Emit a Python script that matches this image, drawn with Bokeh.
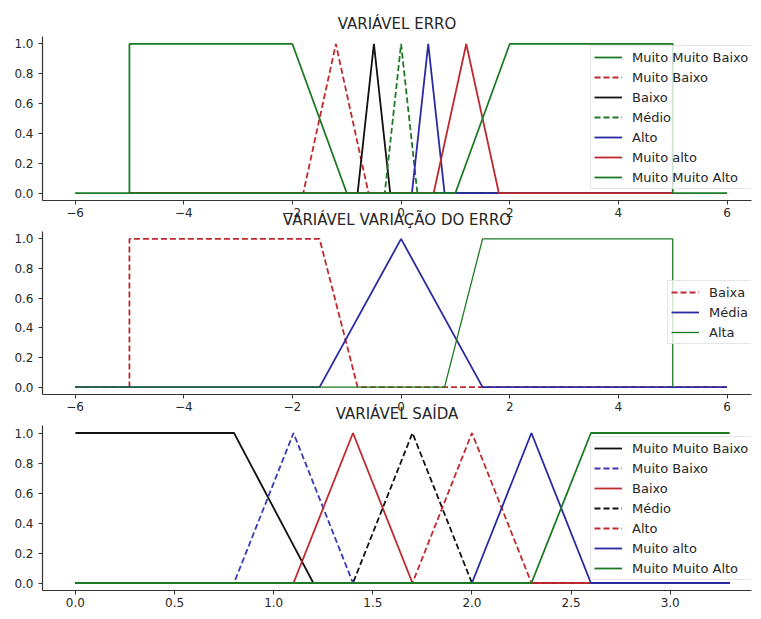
from bokeh.plotting import figure
from bokeh.models import Range1d, Legend, LegendItem, FixedTicker, NumeralTickFormatter
from bokeh.layouts import column
from bokeh.embed import file_html
from bokeh.resources import INLINE

# ---------------- data ----------------
# Panel 1: VARIÁVEL ERRO
erro_title = "VARIÁVEL ERRO"
erro_labels = ["Muito Muito Baixo", "Muito Baixo", "Baixo", "Médio", "Alto", "Muito alto", "Muito Muito Alto"]
erro_mmb_x = [-6, -5, -5, -2, -1, 6]
erro_mmb_y = [0, 0, 1, 1, 0, 0]
erro_mb_x = [-5, -1.8, -1.2, -0.6, 5]
erro_mb_y = [0, 0, 1, 0, 0]
erro_b_x = [-5, -0.8, -0.5, -0.2, 5]
erro_b_y = [0, 0, 1, 0, 0]
erro_m_x = [-5, -0.3, 0.0, 0.3, 5]
erro_m_y = [0, 0, 1, 0, 0]
erro_a_x = [-5, 0.2, 0.5, 0.8, 5]
erro_a_y = [0, 0, 1, 0, 0]
erro_ma_x = [-5, 0.6, 1.2, 1.8, 5]
erro_ma_y = [0, 0, 1, 0, 0]
erro_mma_x = [-5, 1, 2, 5, 5]
erro_mma_y = [0, 0, 1, 1, 0]

# Panel 2: VARIÁVEL VARIAÇÃO DO ERRO
var_title = "VARIÁVEL VARIAÇÃO DO ERRO"
var_labels = ["Baixa", "Média", "Alta"]
var_baixa_x = [-6, -5, -5, -1.5, -0.8, 6]
var_baixa_y = [0, 0, 1, 1, 0, 0]
var_media_x = [-6, -1.5, 0.0, 1.5, 6]
var_media_y = [0, 0, 1, 0, 0]
var_alta_x = [-6, 0.8, 1.5, 5, 5]
var_alta_y = [0, 0, 1, 1, 0]

# Panel 3: VARIÁVEL SAÍDA
saida_title = "VARIÁVEL SAÍDA"
saida_labels = ["Muito Muito Baixo", "Muito Baixo", "Baixo", "Médio", "Alto", "Muito alto", "Muito Muito Alto"]
saida_mmb_x = [0, 0.8, 1.2, 3.3]
saida_mmb_y = [1, 1, 0, 0]
saida_mb_x = [0, 0.8, 1.1, 1.4, 3.3]
saida_mb_y = [0, 0, 1, 0, 0]
saida_b_x = [0, 1.1, 1.4, 1.7, 3.3]
saida_b_y = [0, 0, 1, 0, 0]
saida_m_x = [0, 1.4, 1.7, 2.0, 3.3]
saida_m_y = [0, 0, 1, 0, 0]
saida_a_x = [0, 1.7, 2.0, 2.3, 3.3]
saida_a_y = [0, 0, 1, 0, 0]
saida_ma_x = [0, 2.0, 2.3, 2.6, 3.3]
saida_ma_y = [0, 0, 1, 0, 0]
saida_mma_x = [0, 2.3, 2.6, 3.3]
saida_mma_y = [0, 0, 1, 1]

erro_ticks = [-6, -4, -2, 0, 2, 4, 6]
saida_ticks = [0.0, 0.5, 1.0, 1.5, 2.0, 2.5, 3.0]
y_ticks = [0.0, 0.2, 0.4, 0.6, 0.8, 1.0]

# ---------------- style ----------------
GREEN = "#1d7a24"
RED = "#bf2a2e"
BLUE = "#2a2aa2"
BLUE_D = "#3a3ab4"
BLACK = "#111111"
FONT = "DejaVu Sans"
TXT = "#262626"
LW = 1.8
DASH = "6 3"


def make_fig(height, top, bottom, xr, title, margin_top, title_standoff):
    p = figure(width=755, height=height, output_backend="svg", toolbar_location=None,
               x_range=Range1d(*xr), y_range=Range1d(-0.05, 1.05),
               min_border_left=42, min_border_right=4, min_border_top=top,
               min_border_bottom=bottom, title=title,
               margin=(margin_top, 0, 0, 0))
    p.title.align = "center"
    p.title.offset = 4
    p.title.standoff = title_standoff
    p.title.text_font = FONT
    p.title.text_font_size = "15px"
    p.title.text_font_style = "normal"
    p.title.text_color = TXT
    p.outline_line_color = None
    p.grid.visible = False
    p.background_fill_color = "white"
    p.border_fill_alpha = 0.0
    for ax in (p.xaxis[0], p.yaxis[0]):
        ax.axis_line_color = "#333333"
        ax.axis_line_width = 1.2
        ax.major_tick_line_color = "#333333"
        ax.major_tick_out = 4
        ax.major_tick_in = 0
        ax.minor_tick_out = 0
        ax.minor_tick_in = 0
        ax.major_label_text_font = FONT
        ax.major_label_text_font_size = "12px"
        ax.major_label_text_color = TXT
    p.xaxis.major_label_standoff = 3
    p.yaxis.major_label_standoff = 5
    p.yaxis.ticker = FixedTicker(ticks=y_ticks)
    p.yaxis.formatter = NumeralTickFormatter(format="0.0")
    return p


def add_legend(p, items, loc):
    lg = Legend(items=items, location=loc, padding=3, spacing=4, glyph_width=28,
                glyph_height=16, label_height=16, label_standoff=10,
                label_text_font=FONT, label_text_font_size="13px",
                label_text_color=TXT, border_line_color="#cccccc",
                background_fill_color="white", background_fill_alpha=0.8, margin=0)
    p.add_layout(lg)


def minus_labels(ticks):
    return {t: ("\u2212" + str(abs(t)) if t < 0 else str(t)) for t in ticks}


# ---------------- panel 1 ----------------
p1 = make_fig(222, 36, 22, (-6.6, 6.45), erro_title, 0, 8)
p1.border_fill_alpha = 1.0
p1.border_fill_color = "white"
p1.xaxis.ticker = FixedTicker(ticks=erro_ticks)
p1.xaxis.major_label_overrides = minus_labels(erro_ticks)
series1 = [
    (erro_mmb_x, erro_mmb_y, GREEN, "solid"),
    (erro_mb_x, erro_mb_y, RED, DASH),
    (erro_b_x, erro_b_y, BLACK, "solid"),
    (erro_m_x, erro_m_y, GREEN, DASH),
    (erro_a_x, erro_a_y, BLUE, "solid"),
    (erro_ma_x, erro_ma_y, RED, "solid"),
    (erro_mma_x, erro_mma_y, GREEN, "solid"),
]
items1 = []
for (xs, ys, c, d), lab in zip(series1, erro_labels):
    r = p1.line(xs, ys, line_color=c, line_width=LW, line_dash=d)
    items1.append(LegendItem(label=lab, renderers=[r]))
add_legend(p1, items1, (548, 11))

# ---------------- panel 2 ----------------
p2 = make_fig(211, 26, 22, (-6.6, 6.45), var_title, -17, 6)
p2.xaxis.ticker = FixedTicker(ticks=erro_ticks)
p2.xaxis.major_label_overrides = minus_labels(erro_ticks)
series2 = [
    (var_baixa_x, var_baixa_y, RED, DASH, LW),
    (var_media_x, var_media_y, BLUE, "solid", LW),
    (var_alta_x, var_alta_y, GREEN, "solid", 1.3),
]
items2 = []
for (xs, ys, c, d, w), lab in zip(series2, var_labels):
    r = p2.line(xs, ys, line_color=c, line_width=w, line_dash=d)
    items2.append(LegendItem(label=lab, renderers=[r]))
add_legend(p2, items2, (625, 50))

# ---------------- panel 3 ----------------
p3 = make_fig(215, 26, 24, (-0.166, 3.41), saida_title, -17, 5)
p3.xaxis.ticker = FixedTicker(ticks=saida_ticks)
p3.xaxis.formatter = NumeralTickFormatter(format="0.0")
series3 = [
    (saida_mmb_x, saida_mmb_y, BLACK, "solid"),
    (saida_mb_x, saida_mb_y, BLUE_D, DASH),
    (saida_b_x, saida_b_y, RED, "solid"),
    (saida_m_x, saida_m_y, BLACK, DASH),
    (saida_a_x, saida_a_y, RED, DASH),
    (saida_ma_x, saida_ma_y, BLUE, "solid"),
    (saida_mma_x, saida_mma_y, GREEN, "solid"),
]
items3 = []
for (xs, ys, c, d), lab in zip(series3, saida_labels):
    r = p3.line(xs, ys, line_color=c, line_width=LW, line_dash=d)
    items3.append(LegendItem(label=lab, renderers=[r]))
add_legend(p3, items3, (548, 10))

layout = column(p1, p2, p3, spacing=0)
open("out.html", "w").write(file_html(layout, INLINE))
